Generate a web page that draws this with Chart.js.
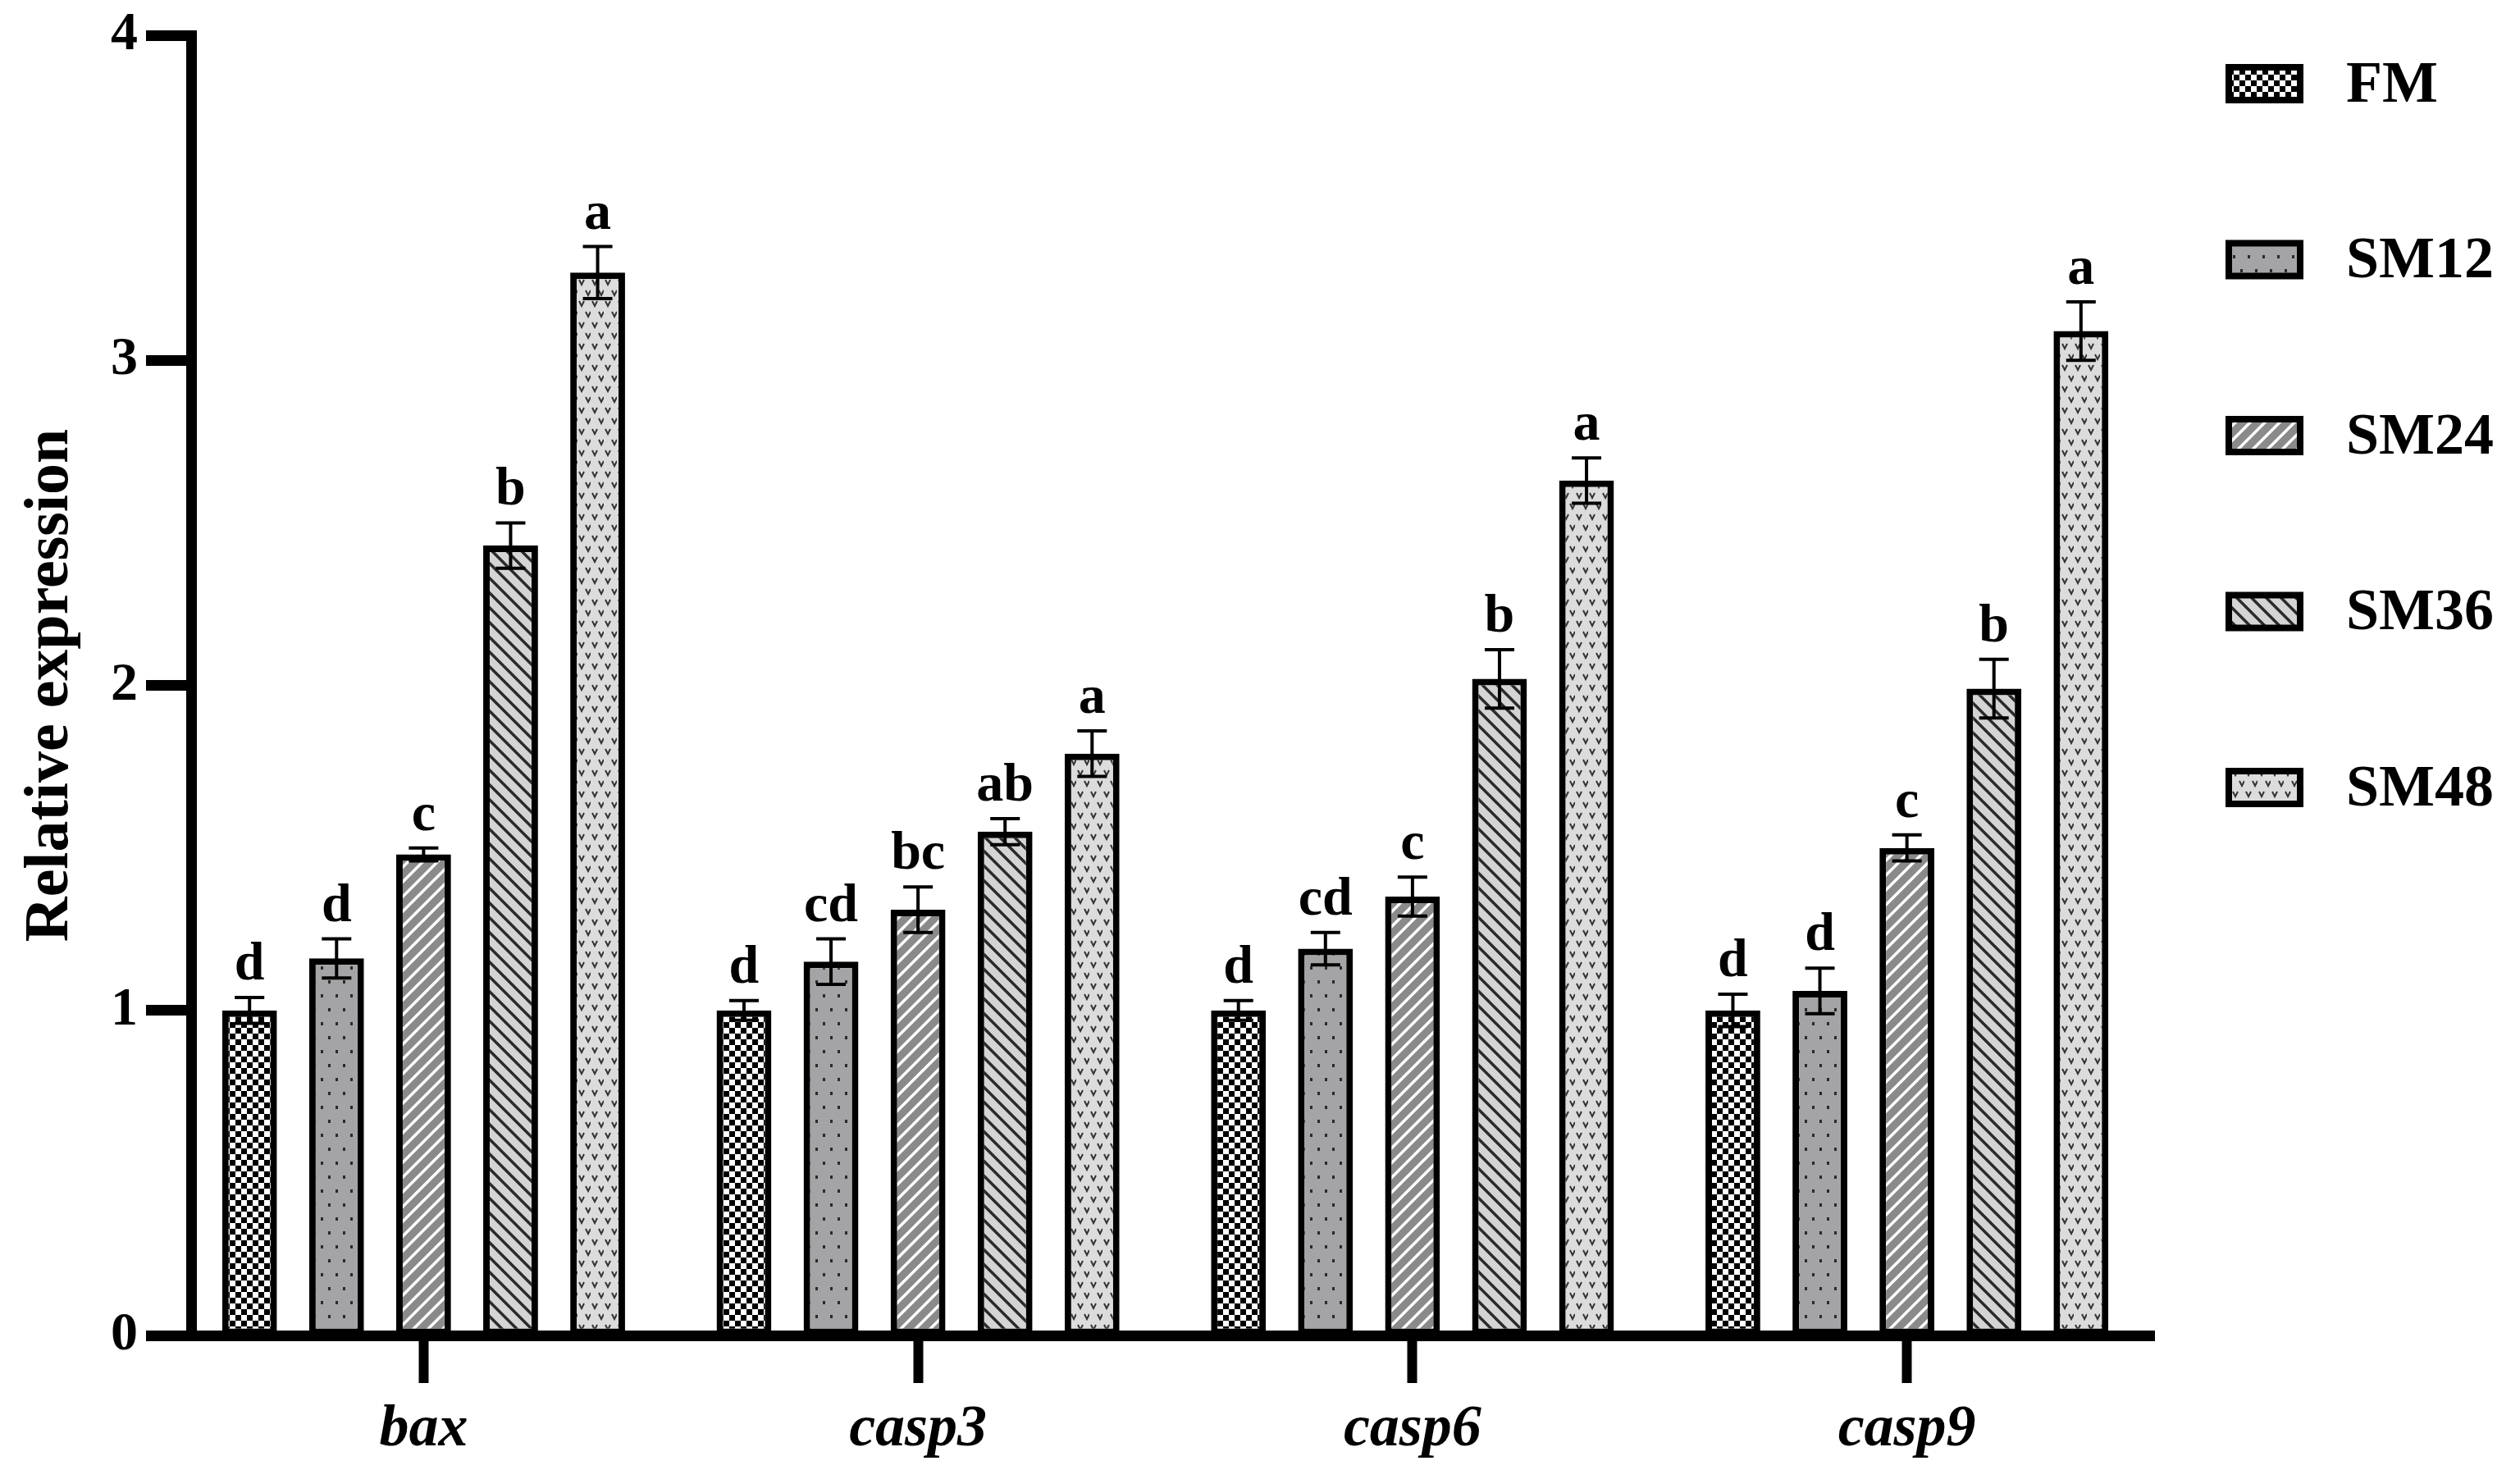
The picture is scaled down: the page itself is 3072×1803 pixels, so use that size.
<!DOCTYPE html>
<html>
<head>
<meta charset="utf-8">
<script src="https://cdn.jsdelivr.net/npm/chart.js@4/dist/chart.umd.min.js"></script>
<style>
  html, body { margin: 0; padding: 0; background: #fff; }
  canvas { display: block; }
</style>
</head>
<body>
<canvas id="geneChart" width="3072" height="1803"></canvas>
<script>
// data
const genes = ['bax', 'casp3', 'casp6', 'casp9'];
const groups = ['FM', 'SM12', 'SM24', 'SM36', 'SM48'];

const fmValues   = [1.00, 1.00, 1.00, 1.00];
const sm12Values = [1.16, 1.15, 1.19, 1.06];
const sm24Values = [1.48, 1.31, 1.35, 1.50];
const sm36Values = [2.43, 1.55, 2.02, 1.99];
const sm48Values = [3.27, 1.79, 2.63, 3.09];

const fmErr   = [0.04, 0.03, 0.03, 0.05];
const sm12Err = [0.06, 0.07, 0.05, 0.07];
const sm24Err = [0.02, 0.07, 0.06, 0.04];
const sm36Err = [0.07, 0.04, 0.09, 0.09];
const sm48Err = [0.08, 0.07, 0.07, 0.09];

const fmLetters   = ['d', 'd', 'd', 'd'];
const sm12Letters = ['d', 'cd', 'cd', 'd'];
const sm24Letters = ['c', 'bc', 'c', 'c'];
const sm36Letters = ['b', 'ab', 'b', 'b'];
const sm48Letters = ['a', 'a', 'a', 'a'];

const yTicks = [0, 1, 2, 3, 4];

const FONT = '"Liberation Serif", "Times New Roman", serif';
const canvas = document.getElementById('geneChart');
const ctx = canvas.getContext('2d');

// fill patterns like the GraphPad ones
function makePattern(w, h, bg, draw) {
    const c = document.createElement('canvas');
    c.width = w; c.height = h;
    const g = c.getContext('2d');
    g.fillStyle = bg;
    g.fillRect(0, 0, w, h);
    draw(g);
    return ctx.createPattern(c, 'repeat');
}

const checker = makePattern(14, 14, '#ffffff', g => {
    g.fillStyle = '#000';
    g.fillRect(0, 0, 7, 7);
    g.fillRect(7, 7, 7, 7);
});
const dots = makePattern(18, 34, '#a4a4a6', g => {
    g.fillStyle = '#2a2a2a';
    g.fillRect(4, 5, 3, 4);
    g.fillRect(13, 22, 3, 4);
});
function stripes(bg, fg, width, up) {
    return makePattern(18, 18, bg, g => {
        g.strokeStyle = fg;
        g.lineWidth = width;
        g.beginPath();
        if (up) {
            g.moveTo(-9, 9); g.lineTo(9, -9);
            g.moveTo(0, 18); g.lineTo(18, 0);
            g.moveTo(9, 27); g.lineTo(27, 9);
        } else {
            g.moveTo(-9, 9); g.lineTo(9, 27);
            g.moveTo(0, 0); g.lineTo(18, 18);
            g.moveTo(9, -9); g.lineTo(27, 9);
        }
        g.stroke();
    });
}
const upStripes = stripes('#8a8a8a', '#ffffff', 3.5, true);
const downStripes = stripes('#d4d4d4', '#2a2a2a', 3.5, false);
const vees = makePattern(16, 26, '#dcdcdc', g => {
    g.strokeStyle = '#333';
    g.lineWidth = 2;
    g.beginPath();
    g.moveTo(2, 3); g.lineTo(5, 9); g.lineTo(8, 3);
    g.moveTo(10, 16); g.lineTo(13, 22); g.lineTo(16, 16);
    g.stroke();
});

const fills = [checker, dots, upStripes, downStripes, vees];
const values = [fmValues, sm12Values, sm24Values, sm36Values, sm48Values];
const errors = [fmErr, sm12Err, sm24Err, sm36Err, sm48Err];
const letters = [fmLetters, sm12Letters, sm24Letters, sm36Letters, sm48Letters];

// the groups in the original start a bit left of the y axis line,
// so widen the category scale after layout; also pin the value 4 line
const fixScales = {
    id: 'fixScales',
    afterLayout(chart) {
        const x = chart.scales.x;
        x.left = 215;
        x.right = 2626;
        x.configure();
        const y = chart.scales.y;
        y.top = 43;
        y.configure();
    }
};

// error bars + significance letters
const errorBars = {
    id: 'errorBars',
    afterDatasetsDraw(chart) {
        const c = chart.ctx;
        const y = chart.scales.y;
        c.save();
        chart.data.datasets.forEach((ds, i) => {
            const meta = chart.getDatasetMeta(i);
            meta.data.forEach((bar, j) => {
                const v = ds.data[j], e = ds.errors[j];
                const top = y.getPixelForValue(v + e);
                const bot = y.getPixelForValue(v - e);
                c.strokeStyle = '#000';
                c.lineWidth = 4;
                c.beginPath();
                c.moveTo(bar.x, top); c.lineTo(bar.x, bot);
                c.moveTo(bar.x - 18, top); c.lineTo(bar.x + 18, top);
                c.moveTo(bar.x - 18, bot); c.lineTo(bar.x + 18, bot);
                c.stroke();
                c.fillStyle = '#000';
                c.font = 'bold 66px ' + FONT;
                c.textAlign = 'center';
                c.textBaseline = 'alphabetic';
                c.fillText(ds.letters[j], bar.x, top - 22);
            });
        });
        c.restore();
    }
};

// legend on the right, boxes with the same fills
const sideLegend = {
    id: 'sideLegend',
    afterDraw(chart) {
        const c = chart.ctx;
        c.save();
        chart.data.datasets.forEach((ds, i) => {
            const cy = 102 + i * 214.5;
            c.fillStyle = ds.backgroundColor;
            c.fillRect(2717, cy - 20, 87, 40);
            c.strokeStyle = '#000';
            c.lineWidth = 8;
            c.strokeRect(2717, cy - 20, 87, 40);
            c.fillStyle = '#000';
            c.font = 'bold 72px ' + FONT;
            c.textAlign = 'left';
            c.textBaseline = 'middle';
            c.fillText(ds.label, 2860, cy + 3);
        });
        c.restore();
    }
};

new Chart(canvas, {
    type: 'bar',
    data: {
        labels: genes,
        datasets: groups.map((g, i) => ({
            label: g,
            data: values[i],
            errors: errors[i],
            letters: letters[i],
            backgroundColor: fills[i],
            borderColor: '#000',
            borderWidth: 8,
            borderSkipped: false,
            barPercentage: 0.63,
            categoryPercentage: 0.88
        }))
    },
    options: {
        responsive: false,
        animation: false,
        devicePixelRatio: 1,
        layout: { padding: { top: 43, right: 451, left: 0, bottom: 0 } },
        plugins: {
            legend: { display: false },
            tooltip: { enabled: false }
        },
        scales: {
            x: {
                grid: {
                    offset: false,
                    drawOnChartArea: false,
                    drawTicks: true,
                    tickLength: 58,
                    tickWidth: 12,
                    tickColor: '#000'
                },
                border: { display: true, color: '#000', width: 13 },
                ticks: {
                    color: '#000',
                    padding: 14,
                    font: { family: FONT, size: 72, weight: 'bold', style: 'italic' }
                },
                afterFit(scale) { scale.height = 175; }
            },
            y: {
                min: 0,
                max: 4,
                afterBuildTicks(scale) { scale.ticks = yTicks.map(v => ({ value: v })); },
                grid: {
                    drawOnChartArea: false,
                    drawTicks: true,
                    tickLength: 55,
                    tickWidth: 13,
                    tickColor: '#000'
                },
                border: { display: true, color: '#000', width: 13 },
                ticks: {
                    color: '#000',
                    padding: 10,
                    font: { family: FONT, size: 66, weight: 'bold' }
                },
                title: {
                    display: true,
                    text: 'Relative expression',
                    color: '#000',
                    padding: { top: 17, bottom: 0 },
                    font: { family: FONT, size: 76, weight: 'bold' }
                },
                afterFit(scale) { scale.width = 233; }
            }
        }
    },
    plugins: [fixScales, errorBars, sideLegend]
});
</script>
</body>
</html>
